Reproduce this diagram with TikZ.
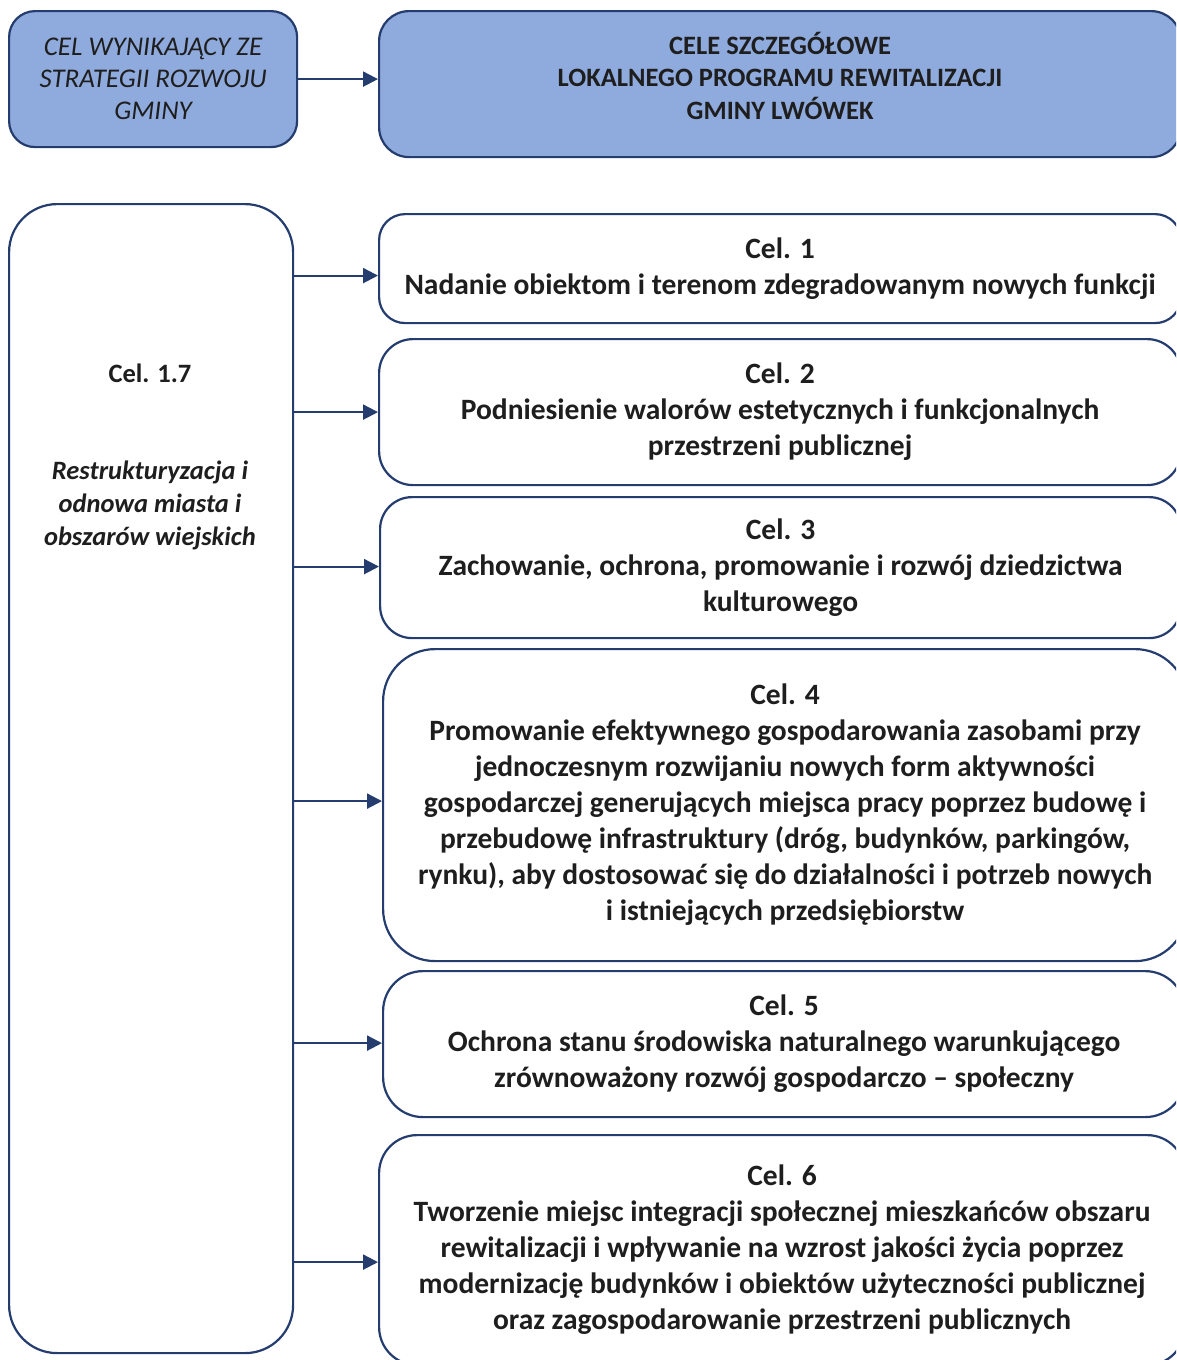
\documentclass[tikz,border=0pt]{standalone}
\usepackage{fontspec}
\setmainfont{Carlito}
\usetikzlibrary{arrows.meta, positioning}
\definecolor{celnavy}{RGB}{36, 60, 110}
\definecolor{celblue}{RGB}{143, 170, 220}
\definecolor{celtext}{RGB}{30, 30, 30}

\begin{document}
\begin{tikzpicture}[x=1pt, y=-1pt,
        head/.style={draw=celnavy, fill=celblue, line width=2.2pt, anchor=north west, inner sep=0pt, align=center, text=celtext},
        goal/.style={draw=celnavy, fill=white, line width=2.2pt, anchor=north west, inner sep=0pt, align=center, text=celtext, font=\bfseries\fontsize{29.5}{36}\selectfont},
        arr/.style={-{Triangle[length=15pt, width=15pt]}, line width=2.2pt, celnavy}
      ]
        \useasboundingbox (0,0) rectangle (1176,1360);
        \clip (0,0) rectangle (1176,1360);

        % header row
        \node[head, rounded corners=26pt, minimum width=288pt, minimum height=136pt,
              font=\itshape\fontsize{27}{32}\selectfont] (strategia) at (8,10)
              {CEL WYNIKAJĄCY ZE\\STRATEGII ROZWOJU\\GMINY};
        \node[head, rounded corners=30pt, minimum width=802pt, minimum height=146pt, text depth=17pt,
              font=\bfseries\fontsize{26.5}{32.5}\selectfont] (lpr) at (378,10)
              {CELE SZCZEGÓŁOWE\\LOKALNEGO PROGRAMU REWITALIZACJI\\GMINY LWÓWEK};
        \draw[arr] (strategia.east) -- (strategia.east -| lpr.west);

        % left column
        \node[goal, rounded corners=48pt, minimum width=284pt, minimum height=1149pt] (cel17) at (8,203) {};
        \node[align=center, text=celtext, font=\bfseries\fontsize{26.5}{33}\selectfont] (cel17txt) at (150,457)
              {Cel. 1.7\\[64pt]\textit{Restrukturyzacja i}\\\textit{odnowa miasta i}\\\textit{obszarów wiejskich}};

        % detailed goals
        \node[goal, rounded corners=26pt, minimum width=802pt, minimum height=109pt] (c1) at (378,213)
              {Cel. 1\\Nadanie obiektom i terenom zdegradowanym nowych funkcji};
        \node[goal, rounded corners=34pt, minimum width=802pt, minimum height=146pt] (c2) at (378,338)
              {Cel. 2\\Podniesienie walorów estetycznych i funkcjonalnych\\przestrzeni publicznej};
        \node[goal, rounded corners=32pt, minimum width=801pt, minimum height=141pt] (c3) at (379,496)
              {Cel. 3\\Zachowanie, ochrona, promowanie i rozwój dziedzictwa\\kulturowego};
        \node[goal, rounded corners=52pt, minimum width=804pt, minimum height=312pt] (c4) at (382,648)
              {Cel. 4\\Promowanie efektywnego gospodarowania zasobami przy\\jednoczesnym rozwijaniu nowych form aktywności\\gospodarczej generujących miejsca pracy poprzez budowę i\\przebudowę infrastruktury (dróg, budynków, parkingów,\\rynku), aby dostosować się do działalności i potrzeb nowych\\i istniejących przedsiębiorstw};
        \node[goal, rounded corners=40pt, minimum width=802pt, minimum height=146pt] (c5) at (382,970)
              {Cel. 5\\Ochrona stanu środowiska naturalnego warunkującego\\zrównoważony rozwój gospodarczo – społeczny};
        \node[goal, rounded corners=38pt, minimum width=806pt, minimum height=230pt] (c6) at (378,1134)
              {Cel. 6\\Tworzenie miejsc integracji społecznej mieszkańców obszaru\\rewitalizacji i wpływanie na wzrost jakości życia poprzez\\modernizację budynków i obiektów użyteczności publicznej\\oraz zagospodarowanie przestrzeni publicznych};

        % arrows sit a little off the box middles
        \foreach \i/\dy in {1/-7, 2/0, 3/1, 4/4, 5/1, 6/-12}
          \draw[arr] ([yshift=\dy pt]cel17.east |- c\i.west) -- ([yshift=\dy pt]c\i.west);
      \end{tikzpicture}
\end{document}
